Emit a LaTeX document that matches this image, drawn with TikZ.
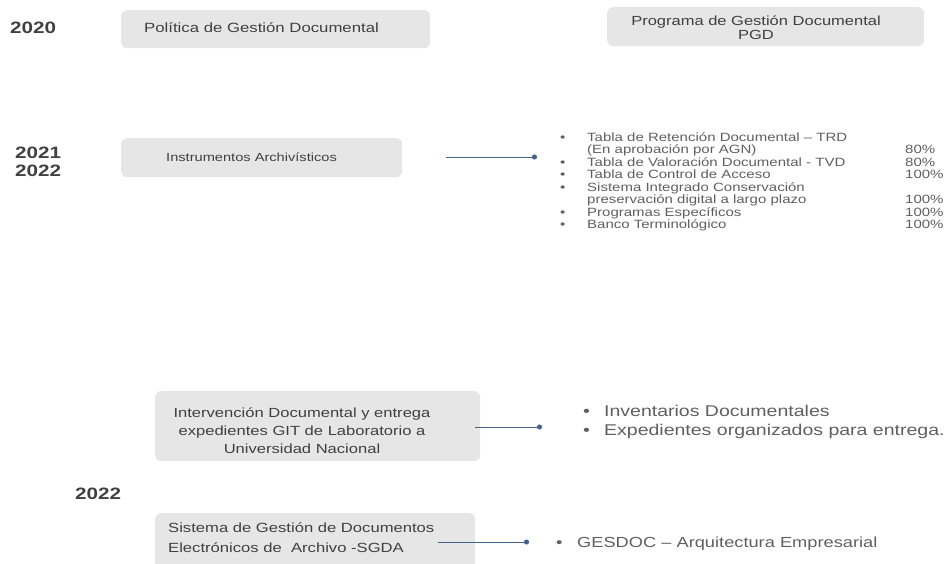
\documentclass[tikz,border=0pt]{standalone}
\usepackage{fontspec}
\setmainfont{Liberation Sans}[FakeStretch=1.25]
\usetikzlibrary{arrows.meta, positioning}
\definecolor{BoxGray}{RGB}{231,230,230}
\definecolor{TextDark}{RGB}{64,64,64}
\definecolor{TextMid}{RGB}{95,95,95}
\definecolor{LinkBlue}{RGB}{68,97,140}
\tikzset{
  yearlbl/.style={font=\bfseries\fontsize{16.5}{18}\selectfont, text=TextDark, align=left, inner sep=0pt, anchor=base west},
  docbox/.style={fill=BoxGray, rounded corners=6pt, anchor=north west, inner sep=0pt},
  boxtxt/.style={text=TextDark, inner sep=0pt},
  itemlist/.style={text=TextMid, inner sep=0pt, anchor=north west},
  link/.style={draw=LinkBlue, line width=0.8pt, -{Circle[length=5pt]}}
}

\begin{document}
\begin{tikzpicture}[x=1pt, y=-1pt]
  \useasboundingbox (0,0) rectangle (951,564);

  % years
  \node[yearlbl] (y20) at (10,34) {2020};
  \node[yearlbl, anchor=north west] (y2122) at (15,147) {2021\\2022};
  \node[yearlbl] (y22) at (75,499.5) {2022};

  % grey boxes
  \node[docbox, minimum width=309pt, minimum height=38pt] (pol) at (121,10) {};
  \node[docbox, minimum width=317pt, minimum height=39pt] (pgd) at (607,7) {};
  \node[docbox, minimum width=281pt, minimum height=39pt] (inst) at (121,138) {};
  \node[docbox, minimum width=325pt, minimum height=70pt] (interv) at (155,391) {};
  \node[docbox, minimum width=320pt, minimum height=60pt] (sgda) at (155,513) {};

  % box texts
  \node[boxtxt, anchor=base west, font=\fontsize{13.4}{16}\selectfont] (poltxt) at (144,33) {Política de Gestión Documental};
  \node[boxtxt, align=center, font=\fontsize{13.2}{14}\selectfont] (pgdtxt) at (756,28) {Programa de Gestión Documental\\PGD};
  \node[boxtxt, anchor=base west, font=\fontsize{11.7}{14}\selectfont] (insttxt) at (166,161.3) {Instrumentos Archivísticos};
  \node[boxtxt, align=center, font=\fontsize{13.25}{18}\selectfont] (intervtxt) at (302,431) {Intervención Documental y entrega\\expedientes GIT de Laboratorio a\\Universidad Nacional};
  \node[boxtxt, align=left, anchor=north west, font=\fontsize{13.3}{20}\selectfont] (sgdatxt) at (168,523) {Sistema de Gestión de Documentos\\Electrónicos de~~Archivo -SGDA};

  % item lists
  \node[itemlist, font=\fontsize{12}{12}\selectfont] (instlist) at (560,132.5) {%
    \begin{tabular}{@{}p{27pt}@{}p{318pt}@{}l@{}}
      • & Tabla de Retención Documental – TRD & \\
        & (En aprobación por AGN) & 80\% \\
      • & Tabla de Valoración Documental - TVD & 80\% \\
      • & Tabla de Control de Acceso & 100\% \\
      • & Sistema Integrado Conservación & \\
        & preservación digital a largo plazo & 100\% \\
      • & Programas Específicos & 100\% \\
      • & Banco Terminológico & 100\%
    \end{tabular}};
  \node[itemlist, font=\fontsize{15.6}{19}\selectfont] (intervlist) at (583,402.5) {%
    \begin{tabular}{@{}p{21pt}@{}l@{}}
      • & Inventarios Documentales \\
      • & Expedientes organizados para entrega.
    \end{tabular}};
  \node[itemlist, font=\fontsize{14.6}{19}\selectfont] (sgdalist) at (556,533.5) {%
    \begin{tabular}{@{}p{21pt}@{}l@{}}
      • & GESDOC – Arquitectura Empresarial
    \end{tabular}};

  % connectors
  \coordinate (c1) at (446,157);
  \coordinate (d1) at (537,157);
  \coordinate (c2) at (475,427);
  \coordinate (d2) at (542,427);
  \coordinate (c3) at (438,542);
  \coordinate (d3) at (529,542);
  \draw[link] (c1) -- (d1);
  \draw[link] (c2) -- (d2);
  \draw[link] (c3) -- (d3);
\end{tikzpicture}
\end{document}
